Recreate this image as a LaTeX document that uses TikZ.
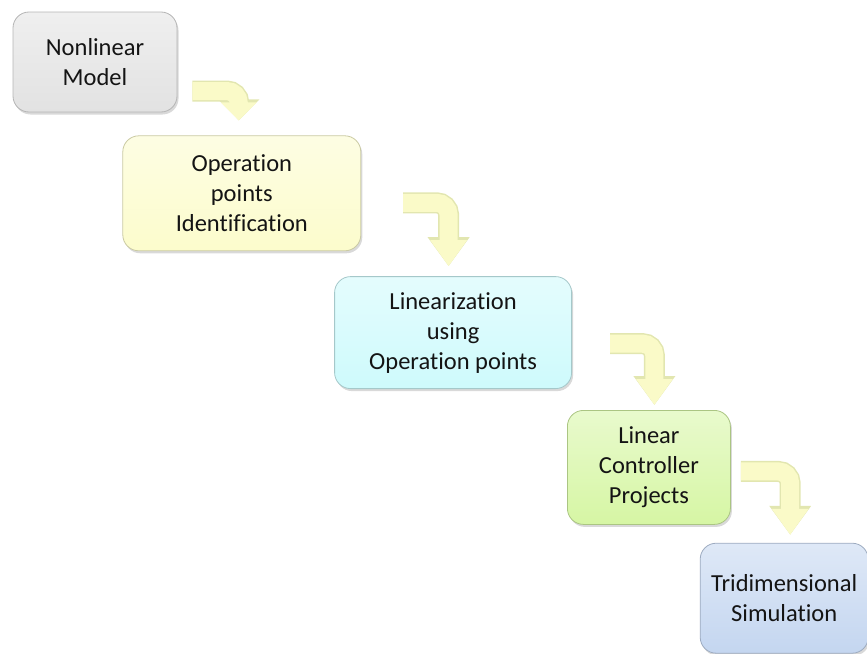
\documentclass[tikz,border=0pt]{standalone}
\usepackage{fontspec}
\setmainfont{Carlito}[Ligatures=NoCommon]
\usetikzlibrary{arrows.meta, calc, positioning, shadows}
\definecolor{greybox}{RGB}{226,226,226}
\definecolor{yellowbox}{RGB}{252,252,204}
\definecolor{cyanbox}{RGB}{206,250,252}
\definecolor{greenbox}{RGB}{214,246,164}
\definecolor{bluebox}{RGB}{196,214,240}
\definecolor{arrowfill}{RGB}{250,250,200}
\definecolor{arrowedge}{RGB}{226,230,176}
\definecolor{boxtext}{RGB}{20,20,20}
\tikzset{
	stage/.style={rectangle, rounded corners=16pt, line width=0.8pt, draw=#1!80!black, top color=#1!55!white, bottom color=#1, align=center, text=boxtext, inner sep=0pt, font=\fontsize{24.5}{30}\selectfont, drop shadow={shadow xshift=1.5pt, shadow yshift=-2.5pt, opacity=0.3, fill=gray}},
	bendarrow/.style={draw=arrowfill, line width=18pt, rounded corners=12pt, -{Triangle[width=35pt,length=#1]}, preaction={draw=arrowedge, line width=21pt, -{Triangle[width=40pt,length=#1+3pt]}}},
	bendarrow/.default=26pt
}
\begin{document}
\begin{tikzpicture}[x=1pt, y=-1pt]
	\useasboundingbox (0,0) rectangle (867,653);
	\node (model) [stage=greybox, minimum width=164pt, minimum height=100pt] at (95,62) {Nonlinear\\Model};
	\node (ident) [stage=yellowbox, minimum width=238pt, minimum height=115pt, below right=23pt and -55pt of model] {Operation\\points\\Identification};
	\node (linear) [stage=cyanbox, minimum width=237pt, minimum height=112pt, below right=25pt and -27pt of ident] {Linearization\\using\\Operation points};
	\node (control) [stage=greenbox, minimum width=163pt, minimum height=114pt, below right=21pt and -5pt of linear] {Linear\\Controller\\Projects};
	\node (simul) [stage=bluebox, minimum width=168pt, minimum height=110pt, below right=18pt and -31pt of control] {Tridimensional\\Simulation};
	% bent arrows between the stages
	\coordinate (arrAs) at ($(model.east)+(15,29)$);
	\coordinate (arrAe) at ($(ident.north)+(-3,-15)$);
	\coordinate (arrBs) at ($(ident.east)+(42,9.5)$);
	\coordinate (arrBe) at ($(linear.north)+(-4.5,-10)$);
	\coordinate (arrCs) at ($(linear.east)+(38,11)$);
	\coordinate (arrCe) at ($(control.north)+(5.5,-5)$);
	\coordinate (arrDs) at ($(control.east)+(10,4)$);
	\coordinate (arrDe) at ($(simul.north)+(6,-8)$);
	\draw [bendarrow=18pt] (arrAs) -| (arrAe);
	\draw [bendarrow] (arrBs) -| (arrBe);
	\draw [bendarrow] (arrCs) -| (arrCe);
	\draw [bendarrow] (arrDs) -| (arrDe);
\end{tikzpicture}
\end{document}
